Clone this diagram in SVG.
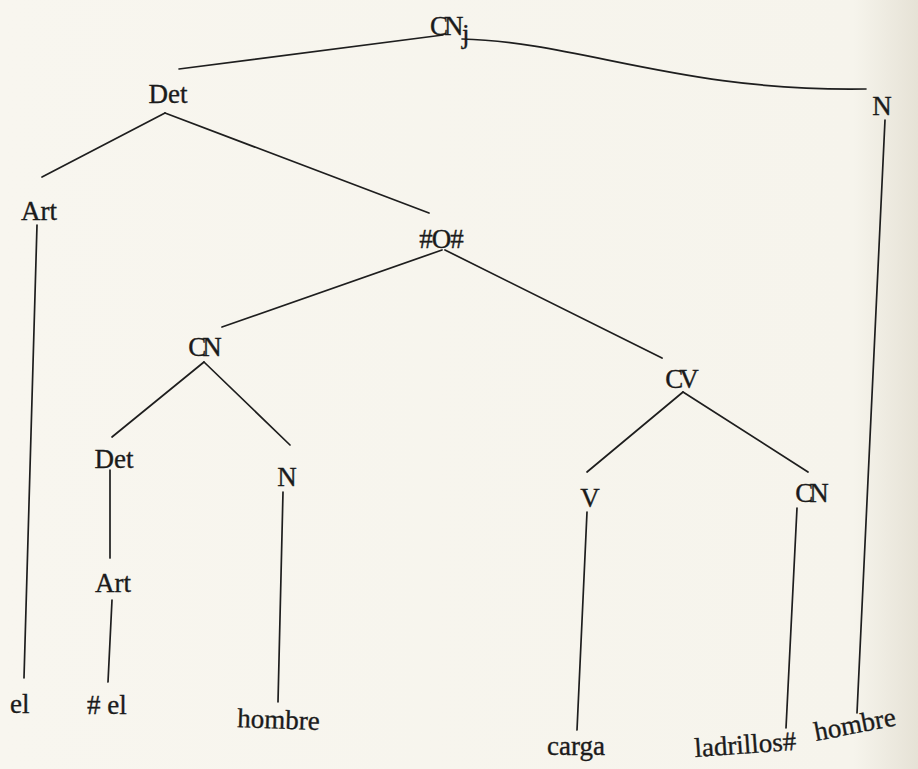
<svg xmlns="http://www.w3.org/2000/svg" width="918" height="769" viewBox="0 0 918 769">
  <defs>
    <linearGradient id="paper" x1="0" y1="0" x2="1" y2="0">
      <stop offset="0" stop-color="#f8f6ef"/>
      <stop offset="0.93" stop-color="#f6f4ec"/>
      <stop offset="1" stop-color="#e6e2d6"/>
    </linearGradient>
    <style>
      .lbl { font-family: "Liberation Serif", "DejaVu Serif", serif; font-size: 27px; fill: #1b1b1b; stroke: #1b1b1b; stroke-width: 0.35px; }
      .mid { text-anchor: middle; }
      .tight { letter-spacing: -4px; }
      .edge { stroke: #1e1e1e; stroke-width: 1.7; fill: none; stroke-linecap: round; }
    </style>
  </defs>

  <rect width="918" height="769" fill="url(#paper)"/>

  <!-- branches of the tree -->
  <g id="connectors">
    <line class="edge" x1="443" y1="35" x2="179" y2="69"/>
    <path class="edge" d="M462,39 C580,42 680,92 866,89"/>
    <line class="edge" x1="165" y1="113" x2="42" y2="177"/>
    <line class="edge" x1="165" y1="113" x2="429" y2="213"/>
    <line class="edge" x1="37" y1="225" x2="24" y2="678"/>
    <line class="edge" x1="442" y1="250" x2="222" y2="327"/>
    <line class="edge" x1="445" y1="250" x2="662" y2="358"/>
    <line class="edge" x1="204" y1="362" x2="112" y2="437"/>
    <line class="edge" x1="204" y1="362" x2="290" y2="445"/>
    <line class="edge" x1="110" y1="470" x2="110" y2="558"/>
    <line class="edge" x1="112" y1="600" x2="108" y2="682"/>
    <line class="edge" x1="283" y1="492" x2="278" y2="702"/>
    <line class="edge" x1="683" y1="392" x2="587" y2="472"/>
    <line class="edge" x1="683" y1="392" x2="808" y2="472"/>
    <line class="edge" x1="587" y1="512" x2="577" y2="730"/>
    <line class="edge" x1="797" y1="508" x2="786" y2="728"/>
    <line class="edge" x1="885" y1="120" x2="857" y2="713"/>
  </g>

  <!-- category nodes -->
  <g id="n-cnj"><text class="lbl tight" x="430" y="35">CN</text><text class="lbl" x="462" y="43" font-size="16">j</text></g>
  <g id="n-det1"><text class="lbl mid" x="168" y="103">Det</text></g>
  <g id="n-n1"><text class="lbl mid" x="882" y="115">N</text></g>
  <g id="n-art1"><text class="lbl mid" x="39" y="220">Art</text></g>
  <g id="n-o"><text class="lbl mid" x="441" y="248" letter-spacing="-1">#O#</text></g>
  <g id="n-cn1"><text class="lbl mid tight" x="203" y="356">CN</text></g>
  <g id="n-cv"><text class="lbl mid tight" x="680" y="388">CV</text></g>
  <g id="n-det2"><text class="lbl mid" x="114" y="468">Det</text></g>
  <g id="n-n2"><text class="lbl mid" x="287" y="486">N</text></g>
  <g id="n-v"><text class="lbl mid" x="590" y="507">V</text></g>
  <g id="n-cn2"><text class="lbl mid tight" x="810" y="502">CN</text></g>
  <g id="n-art2"><text class="lbl mid" x="113" y="592">Art</text></g>

  <!-- terminal words -->
  <g id="w-el"><text class="lbl" x="10" y="713">el</text></g>
  <g id="w-hash-el"><text class="lbl" x="87" y="714"># el</text></g>
  <g id="w-hombre1"><text class="lbl" x="237" y="727" transform="rotate(2 237 727)">hombre</text></g>
  <g id="w-carga"><text class="lbl" x="547" y="755">carga</text></g>
  <g id="w-ladrillos"><text class="lbl" x="695" y="757" font-size="30.5" transform="rotate(-4 695 757)">ladrillos#</text></g>
  <g id="w-hombre2"><text class="lbl" x="816" y="741" font-size="31" transform="rotate(-11 816 741)">hombre</text></g>
</svg>
